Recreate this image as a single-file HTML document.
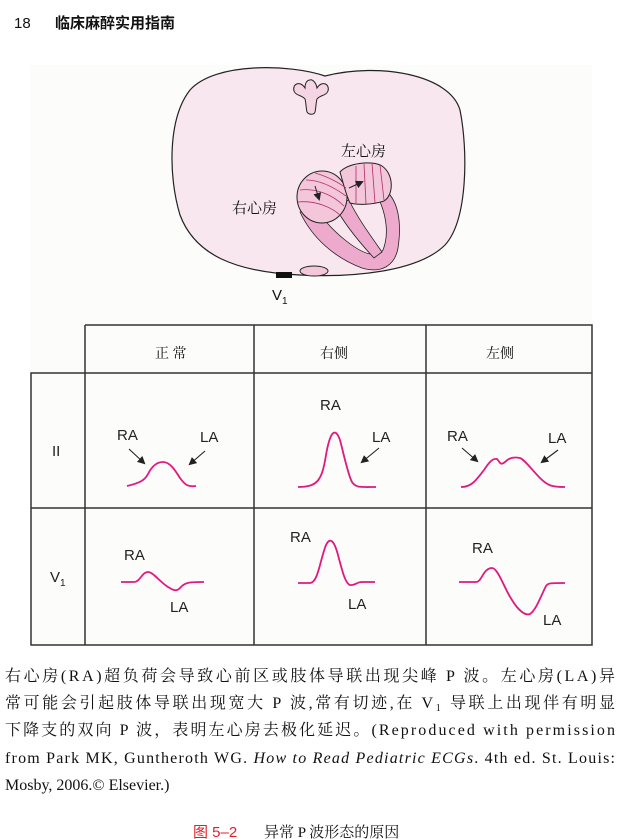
<!DOCTYPE html>
<html><head><meta charset="utf-8"><style>
html,body{margin:0;padding:0;background:#fff;width:619px;height:839px;overflow:hidden}
svg{display:block}
.cn{font-family:"Liberation Serif","Noto Serif CJK SC","Noto Sans CJK SC",serif}
.sans{font-family:"Liberation Sans","Noto Sans CJK SC",sans-serif}
</style></head><body>
<svg width="619" height="839" viewBox="0 0 619 839" xmlns="http://www.w3.org/2000/svg">
<defs><marker id="ar" markerWidth="8" markerHeight="8" refX="6" refY="4" orient="auto" markerUnits="userSpaceOnUse"><path d="M0,0 L8,4 L0,8 Z" fill="#222"/></marker></defs>
<text x="14" y="28" font-size="15" class="sans" fill="#111">18</text>
<text x="55" y="28" font-size="15" font-weight="bold" class="sans" fill="#111">临床麻醉实用指南</text>
<rect x="30" y="65" width="562" height="580" fill="#fcfcfb"/>
<!-- torso -->
<path d="M325,76 C290,64 215,62 190,90 C168,118 168,175 180,215 C195,255 235,272 300,275 C360,278 420,270 445,245 C468,220 468,150 460,110 C450,75 380,62 325,76 Z" fill="#f9e7ef" stroke="#222" stroke-width="1.2"/>
<path d="M305,88 C300,80 292,84 294,91 C296,96 302,95 305,99 C306,102 306,108 307,112 C309,115 314,115 315,112 C316,108 316,102 317,99 C320,95 326,96 328,91 C330,84 322,80 317,88 C316,82 312,79 310,80 C307,80 305,83 305,88 Z" fill="#f5d5e3" stroke="#222" stroke-width="1"/>
<text x="341" y="156" font-size="15" class="cn" fill="#111">左心房</text>
<text x="232" y="213" font-size="15" class="cn" fill="#111">右心房</text>
<!-- ventricle bands -->
<path d="M300,212 C312,238 335,258 362,268 C382,274 395,265 398,248 C402,222 398,200 385,190 L377,195 C387,215 389,235 383,250 C375,260 360,252 345,240 C330,228 320,215 316,208 Z" fill="#eeaacd" stroke="#222" stroke-width="0.8"/>
<path d="M334,205 C345,225 360,243 374,258 L382,252 C370,235 357,217 349,200 Z" fill="#eeaacd" stroke="#222" stroke-width="0.8"/>
<!-- atria -->
<ellipse cx="322" cy="197" rx="25" ry="26" fill="#f3c6da" stroke="#222" stroke-width="1"/>
<path d="M340,172 C348,163 372,160 382,166 C394,174 394,195 384,201 C372,205 358,205 350,203 C346,195 343,182 340,172 Z" fill="#f3c6da" stroke="#222" stroke-width="1"/>
<g stroke="#b0306a" stroke-width="0.8" fill="none">
<path d="M300,190 C315,188 332,194 344,206"/><path d="M298,202 C316,200 333,208 341,216"/><path d="M306,180 C320,180 335,188 346,196"/><path d="M315,173 C326,176 338,182 346,188"/>
<path d="M356,166 L356,203"/><path d="M364,164 L366,204"/><path d="M372,163 L375,203"/><path d="M380,165 L384,200"/>
</g>
<line x1="315" y1="186" x2="319" y2="199" stroke="#222" stroke-width="1" marker-end="url(#ar)"/>
<line x1="349" y1="188" x2="362" y2="182" stroke="#222" stroke-width="1" marker-end="url(#ar)"/>
<ellipse cx="314" cy="271" rx="14" ry="5" fill="#f3c6da" stroke="#222" stroke-width="1"/>
<rect x="276" y="272" width="16" height="6" fill="#111"/>
<text x="272" y="300" font-size="15" class="sans" fill="#111">V<tspan font-size="10" dy="4">1</tspan></text>
<!-- table -->
<g stroke="#333" stroke-width="1.5" fill="none">
<path d="M85,325 H592 V645 H31 V373 H592"/>
<path d="M31,508 H592"/>
<path d="M85,325 V645 M254,325 V645 M426,325 V645"/>
</g>
<g class="cn" font-size="14" fill="#111">
<text x="155" y="358">正 常</text><text x="320" y="358">右侧</text><text x="486" y="358">左侧</text>
</g>
<g class="sans" font-size="15" fill="#222">
<text x="52" y="456">II</text>
<text x="50" y="582">V<tspan font-size="10" dy="4">1</tspan></text>
<text x="117" y="440">RA</text><text x="200" y="442">LA</text>
<text x="320" y="410">RA</text><text x="372" y="442">LA</text>
<text x="447" y="441">RA</text><text x="548" y="443">LA</text>
<text x="124" y="560">RA</text><text x="170" y="612">LA</text>
<text x="290" y="542">RA</text><text x="348" y="609">LA</text>
<text x="472" y="553">RA</text><text x="543" y="625">LA</text>
</g>
<g stroke="#222" stroke-width="1.1">
<line x1="129" y1="449" x2="144" y2="463" marker-end="url(#ar)"/>
<line x1="205" y1="451" x2="190" y2="464" marker-end="url(#ar)"/>
<line x1="379" y1="448" x2="362" y2="462" marker-end="url(#ar)"/>
<line x1="462" y1="448" x2="477" y2="461" marker-end="url(#ar)"/>
<line x1="558" y1="450" x2="542" y2="462" marker-end="url(#ar)"/>
</g>
<g stroke="#e0197f" stroke-width="1.8" fill="none">
<path d="M127,486 C140,483 145,480 148,474 C152,466 157,462 163,462 C170,462 175,470 180,478 C185,485 188,487 196,486"/>
<path d="M298,487 C318,487 322,480 326,455 C330,432 335,426 340,440 C344,455 348,475 352,482 C356,488 360,487 376,487"/>
<path d="M461,487 C472,487 476,480 484,470 C488,464 492,458 497,459 C500,462 500,466 505,462 C510,457 515,457 520,458 C525,460 532,470 540,478 C548,486 552,487 565,487"/>
<path d="M121,582 L134,582 C140,582 142,572 148,572 C153,572 160,582 168,587 C173,590 176,592 180,588 C185,582 190,582 204,582"/>
<path d="M298,583 L310,583 C318,583 320,560 326,545 C330,537 334,540 338,555 C342,570 345,583 350,585 C355,586 356,582 362,582 L375,582"/>
<path d="M459,582 L476,582 C482,582 483,568 492,568 C498,568 505,590 512,600 C518,610 525,616 530,614 C536,610 540,598 546,586 C548,583 550,583 565,583"/>
</g>
<!-- paragraph -->
<g class="cn" font-size="16" fill="#111">
<text x="5" y="681" textLength="610" lengthAdjust="spacing">右心房(RA)超负荷会导致心前区或肢体导联出现尖峰 P 波。左心房(LA)异</text>
<text x="5" y="708" textLength="610" lengthAdjust="spacing">常可能会引起肢体导联出现宽大 P 波,常有切迹,在 V<tspan font-size="10" dy="3">1</tspan><tspan dy="-3"> 导联上出现伴有明显</tspan></text>
<text x="5" y="735" textLength="610" lengthAdjust="spacing">下降支的双向 P 波，表明左心房去极化延迟。(Reproduced with permission</text>
<text x="5" y="763" textLength="610" lengthAdjust="spacing">from Park MK, Guntheroth WG. <tspan font-style="italic">How to Read Pediatric ECGs</tspan>. 4th ed. St. Louis:</text>
<text x="5" y="790">Mosby, 2006.© Elsevier.)</text>
</g>
<text x="193" y="837" font-size="15" class="sans" fill="#e0202a">图 5–2</text>
<text x="264" y="837" font-size="15" class="cn" fill="#111">异常 P 波形态的原因</text>
</svg>
</body></html>
